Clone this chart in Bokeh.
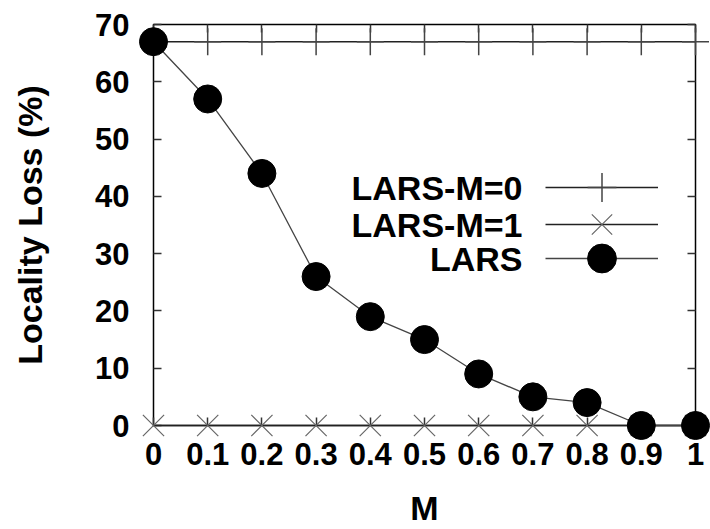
from bokeh.plotting import figure
from bokeh.models import (Range1d, LinearAxis, FixedTicker, Legend, LegendItem, Label,
                          CustomLabelingPolicy)
from bokeh.embed import file_html
from bokeh.resources import INLINE

# ---- data ----
m_values = [0, 0.1, 0.2, 0.3, 0.4, 0.5, 0.6, 0.7, 0.8, 0.9, 1]
x_tick_labels = ["0", "0.1", "0.2", "0.3", "0.4", "0.5", "0.6", "0.7", "0.8", "0.9", "1"]
y_ticks = [0, 10, 20, 30, 40, 50, 60, 70]
lars_m0 = [67, 67, 67, 67, 67, 67, 67, 67, 67, 67, 67]
lars_m1 = [0, 0, 0, 0, 0, 0, 0, 0, 0, 0, 0]
lars = [67, 57, 44, 26, 19, 15, 9, 5, 4, 0, 0]
series_names = ["LARS-M=0", "LARS-M=1", "LARS"]

FONT = "Liberation Sans"
FS = "31px"
TFS = "34px"

p = figure(width=710, height=529, output_backend="svg", toolbar_location=None,
           x_range=Range1d(0, 1), y_range=Range1d(0, 70),
           min_border_left=153, min_border_right=10, min_border_top=24,
           min_border_bottom=104)
p.background_fill_color = "white"
p.border_fill_color = "white"
p.grid.visible = False
p.outline_line_color = "black"
p.outline_line_width = 1.5

no_labels = CustomLabelingPolicy(code="""
for (const i of Array.from(indices)) { indices.unset(i) }
return indices
""")

def style_axis(ax, labels=True):
    ax.axis_line_color = None
    ax.major_tick_in = 8
    ax.major_tick_out = 0
    ax.minor_tick_line_color = None
    ax.major_tick_line_color = "#333333"
    ax.major_tick_line_width = 1.5
    if labels:
        ax.major_label_text_font = FONT
        ax.major_label_text_font_size = FS
        ax.major_label_text_font_style = "bold"
        ax.major_label_text_color = "black"
    else:
        ax.major_label_policy = no_labels
        ax.major_label_standoff = 0

xt = FixedTicker(ticks=m_values)
yt = FixedTicker(ticks=y_ticks)

xa = p.xaxis[0]
xa.ticker = xt
xa.major_label_overrides = {v: l for v, l in zip(m_values, x_tick_labels)}
style_axis(xa)
xa.major_label_standoff = 17
xa.axis_label = "M"
xa.axis_label_text_font = FONT
xa.axis_label_text_font_size = TFS
xa.axis_label_text_font_style = "bold"
xa.axis_label_text_color = "black"
xa.axis_label_standoff = 21

ya = p.yaxis[0]
ya.ticker = yt
style_axis(ya)
ya.major_label_standoff = 24
ya.axis_label = "Locality Loss (%)"
ya.axis_label_text_font = FONT
ya.axis_label_text_font_size = TFS
ya.axis_label_text_font_style = "bold"
ya.axis_label_text_color = "black"
ya.axis_label_standoff = 43

ra = LinearAxis(ticker=FixedTicker(ticks=y_ticks))
style_axis(ra, labels=False)
p.add_layout(ra, "right")
ta = LinearAxis(ticker=FixedTicker(ticks=m_values))
style_axis(ta, labels=False)
p.add_layout(ta, "above")

# ---- series ----
l0 = p.line(m_values, lars_m0, line_color="#222222", line_width=1.5, level="overlay")
s0 = p.scatter(m_values, lars_m0, marker="cross", size=27, line_color="#444444",
               line_width=1.5, level="overlay")
l1 = p.line(m_values, lars_m1, line_color="#222222", line_width=1.5, level="overlay")
s1 = p.scatter(m_values, lars_m1, marker="x", size=30, line_color="#666666",
               line_width=1.2, level="overlay")
l2 = p.line(m_values, lars, line_color="#444444", line_width=1.3, level="overlay")
s2 = p.scatter(m_values, lars, marker="circle", size=28, fill_color="black",
               line_color="black", level="overlay")

row_renderers = [[l0, s0], [l1, s1], [l2, s2]]
row_centers = [238, 201, 167]   # px above the frame bottom
for rends, yc, name in zip(row_renderers, row_centers, series_names):
    lg = Legend(items=[LegendItem(label=" ", renderers=rends)],
                location=(392, yc - 36), glyph_width=113, glyph_height=72,
                label_width=0, label_standoff=0, padding=0, margin=0,
                border_line_color=None, background_fill_alpha=0,
                label_text_font_size="34px")
    p.add_layout(lg, "center")
    p.add_layout(Label(x=369, y=yc, x_units="screen", y_units="screen", text=name,
                       text_align="right", text_baseline="middle",
                       text_font=FONT, text_font_size=TFS, text_font_style="bold",
                       text_color="black"))

open("out.html", "w").write(file_html(p, INLINE))
